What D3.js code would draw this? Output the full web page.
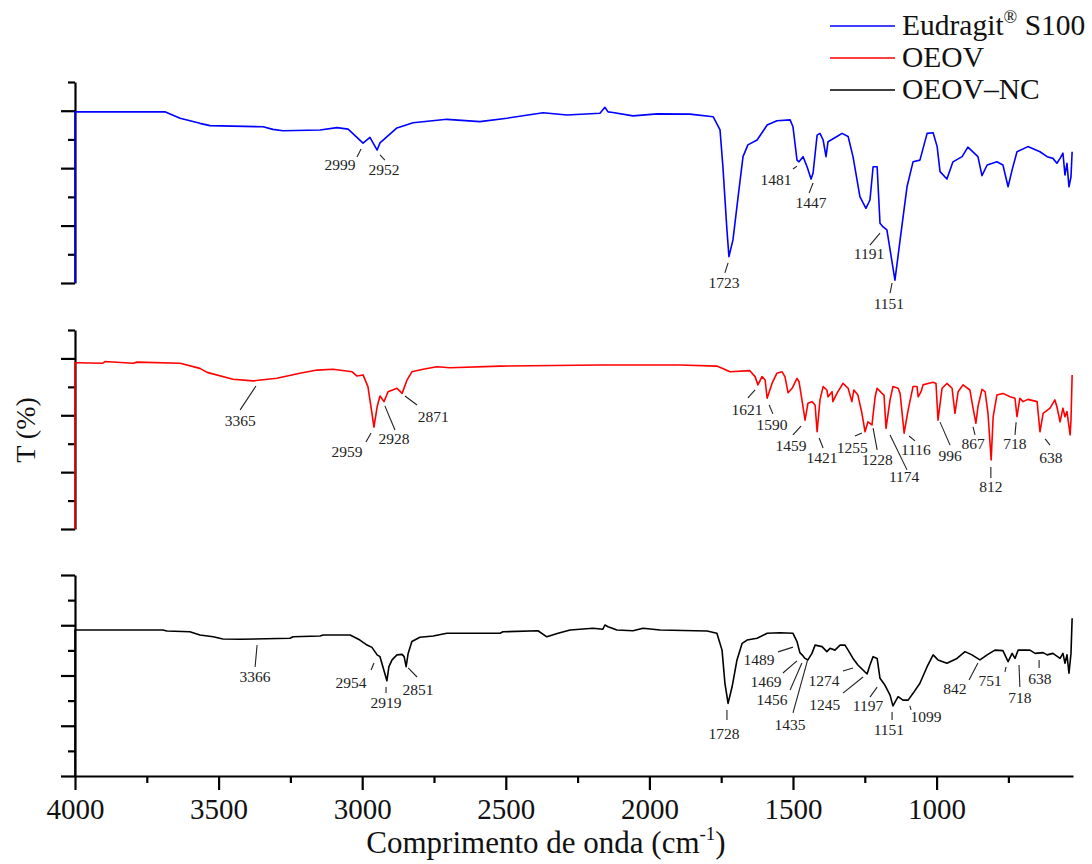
<!DOCTYPE html>
<html>
<head>
<meta charset="utf-8">
<script src="https://cdn.jsdelivr.net/npm/d3@7"></script>
<style>
    body { margin: 0; background: #fff; }
    svg { display: block; font-family: "Liberation Serif", "Times New Roman", serif; }
</style>
</head>
<body>
<svg id="drawing_region"></svg>
<script>
// series names (legend order = panel order, top to bottom)
const seriesNames = ['Eudragit® S100', 'OEOV', 'OEOV–NC'];
const seriesColors = ['#0000ff', '#ff0000', '#000000'];

// axes
const xDomain = [4000, 525];
const xTicks = [4000, 3500, 3000, 2500, 2000, 1500, 1000];
const xMinorTicks = [3750, 3250, 2750, 2250, 1750, 1250, 750];
const yMax = [70, 70, 80];
const yMajorTicks = [0, 20, 40, 60, 80];
const yMinorTicks = [10, 30, 50, 70];

// spectra: [wavenumber (cm-1), T (a.u.)]
const eudragit = [
    [4000, 0], [4000, 59.6], [3687, 59.6], [3634, 57.4], [3565, 55.6], [3530, 54.8], [3345, 54.4],
    [3311, 53.5], [3276, 53.0], [3147, 53.3], [3088, 54.1], [3049, 53.6], [2997, 48.7], [2973, 50.7],
    [2948, 46.3], [2938, 48.8], [2879, 54.0], [2823, 55.8], [2705, 57.0], [2590, 56.2], [2496, 57.4],
    [2370, 59.3], [2287, 58.5], [2172, 59.1], [2155, 61.2], [2144, 59.6], [2127, 59.4], [2057, 58.2],
    [1973, 58.9], [1859, 58.8], [1778, 57.9], [1754, 53.3], [1744, 40.5], [1730, 18.5], [1723, 9.2],
    [1709, 15.0], [1691, 30.1], [1674, 44.0], [1657, 48.1], [1625, 49.8], [1590, 55.0], [1556, 56.5],
    [1510, 56.8], [1500, 54.4], [1486, 42.8], [1479, 42.2], [1465, 44.0], [1451, 40.5], [1437, 36.2],
    [1430, 38.3], [1416, 51.5], [1406, 52.1], [1395, 49.8], [1385, 44.0], [1378, 49.2], [1347, 51.0],
    [1329, 52.1], [1308, 51.0], [1291, 44.0], [1267, 30.1], [1246, 26.0], [1232, 28.9], [1221, 40.5],
    [1207, 40.5], [1197, 20.8], [1187, 19.6], [1173, 18.5], [1145, 1.0], [1127, 15.0], [1103, 33.5],
    [1082, 42.2], [1058, 42.8], [1033, 52.1], [1012, 52.3], [998, 47.5], [988, 38.8], [964, 36.2],
    [943, 42.2], [911, 44.0], [891, 47.3], [856, 44.0], [842, 37.4], [824, 41.1], [790, 42.2],
    [769, 41.1], [751, 33.5], [737, 39.4], [720, 45.7], [682, 47.5], [640, 45.7], [615, 44.0],
    [595, 43.4], [581, 41.7], [570, 43.4], [560, 45.2], [553, 37.6], [546, 41.7], [539, 33.5],
    [532, 37.0], [528, 45.7]
];

const oeov = [
    [4000, 0], [4000, 58.5], [3993, 58.5], [3903, 58.3], [3896, 58.9], [3798, 58.3], [3784, 58.7],
    [3634, 58.3], [3565, 56.5], [3540, 55.1], [3450, 52.7], [3380, 52.1], [3297, 53.0], [3217, 54.8],
    [3157, 55.9], [3102, 56.2], [3035, 55.3], [3018, 53.8], [2997, 54.2], [2980, 50.1], [2966, 40.7],
    [2959, 35.8], [2948, 43.0], [2938, 46.8], [2924, 44.8], [2910, 48.3], [2879, 49.5], [2861, 47.7],
    [2844, 52.4], [2827, 55.3], [2788, 56.2], [2740, 57.1], [2694, 56.7], [2520, 57.3], [2172, 57.7],
    [1893, 57.7], [1765, 57.3], [1719, 55.3], [1650, 55.7], [1632, 53.6], [1622, 50.7], [1608, 53.6],
    [1597, 52.4], [1590, 46.0], [1573, 51.2], [1556, 54.8], [1538, 55.3], [1528, 53.6], [1517, 47.9],
    [1503, 49.5], [1486, 53.0], [1479, 51.8], [1465, 43.0], [1458, 38.3], [1448, 44.2], [1434, 44.8],
    [1423, 43.6], [1416, 34.2], [1406, 45.4], [1395, 50.1], [1382, 48.9], [1378, 46.5], [1364, 48.3],
    [1361, 44.8], [1347, 47.7], [1326, 51.2], [1308, 49.5], [1295, 44.8], [1288, 48.9], [1274, 47.1],
    [1260, 40.7], [1249, 34.2], [1239, 37.7], [1225, 36.6], [1214, 46.5], [1207, 49.5], [1190, 47.7],
    [1183, 47.1], [1176, 35.4], [1162, 45.4], [1152, 50.1], [1134, 49.5], [1127, 47.7], [1113, 33.7],
    [1099, 41.9], [1082, 50.1], [1068, 50.1], [1064, 46.5], [1054, 48.3], [1047, 50.7], [1030, 51.2],
    [1012, 51.6], [1002, 51.2], [995, 38.3], [981, 49.5], [964, 51.2], [946, 49.5], [936, 40.7],
    [925, 48.3], [908, 50.7], [884, 48.9], [873, 42.5], [863, 37.2], [856, 43.0], [842, 49.1],
    [831, 48.3], [821, 40.7], [810, 24.3], [803, 39.5], [790, 47.1], [769, 47.7], [744, 46.5],
    [727, 46.0], [720, 39.5], [710, 46.0], [699, 44.8], [682, 45.6], [650, 44.8], [640, 34.2],
    [629, 40.7], [605, 42.5], [588, 45.4], [581, 43.0], [570, 37.7], [560, 42.5], [553, 39.5],
    [546, 41.3], [535, 33.1], [532, 38.3], [528, 54.2]
];

const oeovNc = [
    [4000, 0], [4000, 58.1], [3694, 58.1], [3680, 57.7], [3600, 57.4], [3565, 56.1], [3519, 55.4],
    [3485, 54.5], [3425, 54.4], [3251, 54.8], [3241, 55.4], [3147, 55.7], [3136, 56.1], [3042, 56.1],
    [3008, 54.1], [2983, 52.1], [2966, 51.2], [2948, 48.2], [2938, 47.5], [2928, 43.5], [2914, 37.9],
    [2907, 43.5], [2896, 46.2], [2879, 48.2], [2861, 48.4], [2854, 47.5], [2847, 43.5], [2840, 48.8],
    [2827, 53.5], [2799, 55.2], [2753, 55.7], [2705, 56.8], [2520, 56.8], [2510, 57.4], [2388, 57.8],
    [2357, 55.4], [2318, 56.8], [2276, 58.1], [2196, 58.8], [2162, 58.4], [2155, 60.1], [2144, 59.4],
    [2113, 58.1], [2057, 57.8], [2022, 58.8], [1963, 58.1], [1799, 57.7], [1765, 56.8], [1747, 50.1],
    [1737, 36.9], [1726, 28.9], [1712, 35.5], [1695, 46.2], [1677, 52.8], [1660, 54.1], [1625, 54.8],
    [1590, 56.8], [1545, 57.0], [1500, 56.8], [1486, 53.5], [1476, 49.1], [1465, 47.8], [1458, 46.8],
    [1448, 46.2], [1434, 48.8], [1423, 52.1], [1399, 51.5], [1382, 49.5], [1371, 50.8], [1354, 50.1],
    [1336, 52.1], [1319, 52.1], [1308, 50.1], [1291, 46.8], [1274, 44.2], [1242, 40.6], [1232, 44.2],
    [1221, 47.5], [1207, 46.8], [1197, 38.9], [1180, 36.2], [1162, 32.2], [1152, 27.9], [1134, 31.6],
    [1117, 30.2], [1099, 30.2], [1082, 32.9], [1058, 36.9], [1033, 43.5], [1012, 48.2], [995, 46.2],
    [964, 44.9], [929, 46.8], [901, 49.5], [877, 48.2], [849, 46.2], [824, 48.2], [797, 50.1],
    [769, 49.9], [751, 45.5], [737, 48.8], [727, 46.8], [716, 50.1], [675, 50.1], [657, 48.8],
    [629, 49.1], [615, 48.2], [595, 48.8], [570, 46.8], [560, 48.8], [553, 44.9], [546, 48.2],
    [539, 40.9], [532, 48.8], [528, 62.8]
];

// peak labels: [text, text wn, text T, leader wn1, T1, leader wn2, T2]
const eudragitPeaks = [
    ['2999', 3077, 41.1, 3018, 43.9, 3004, 46.7],
    ['2952', 2924, 39.4, 2938, 44.6, 2921, 42.8],
    ['1723', 1740, 0.3, 1737, 3.5, 1726, 7.0],
    ['1481', 1559, 36.2, 1500, 39.7, 1486, 40.7],
    ['1447', 1437, 27.9, 1444, 31.3, 1430, 34.8],
    ['1191', 1235, 10.4, 1232, 13.2, 1197, 17.4],
    ['1151', 1166, -7.3, 1162, -3.5, 1155, 0]
];

const oeovPeaks = [
    ['3365', 3425, 38.3, 3425, 41.9, 3370, 50.3],
    ['2959', 3053, 27.1, 2987, 30.6, 2969, 33.8],
    ['2928', 2889, 32.0, 2921, 43.3, 2886, 34.8],
    ['2871', 2753, 39.4, 2851, 46.8, 2809, 43.6],
    ['1621', 1660, 41.9, 1657, 46.1, 1632, 48.9],
    ['1590', 1573, 36.6, 1583, 43.6, 1570, 40.5],
    ['1459', 1507, 29.2, 1500, 33.1, 1472, 36.2],
    ['1421', 1399, 25.0, 1409, 32.0, 1395, 28.5],
    ['1255', 1294, 28.8, 1284, 32.7, 1260, 33.8],
    ['1228', 1207, 24.3, 1221, 35.5, 1207, 27.8],
    ['1174', 1113, 18.3, 1162, 33.1, 1103, 20.8],
    ['1116', 1072, 27.8, 1096, 32.7, 1075, 31.0],
    ['996', 953, 26.0, 988, 37.6, 953, 29.5],
    ['867', 873, 30.2, 873, 35.9, 866, 33.1],
    ['812', 811, 14.8, 811, 21.8, 811, 17.9],
    ['718', 727, 30.2, 723, 37.6, 727, 33.1],
    ['638', 602, 25.3, 622, 31.7, 605, 29.5]
];

const oeovNcPeaks = [
    ['3366', 3373, 39.8, 3366, 52.1, 3373, 43.4],
    ['2954', 3039, 37.4, 2969, 42.2, 2959, 45.0],
    ['2919', 2917, 29.1, 2917, 35.4, 2917, 33.0],
    ['2851', 2806, 34.6, 2840, 43.0, 2809, 39.4],
    ['1728', 1740, 17.1, 1730, 26.3, 1730, 22.3],
    ['1489', 1618, 46.2, 1552, 49.4, 1500, 51.3],
    ['1469', 1594, 37.8, 1535, 41.0, 1486, 45.8],
    ['1456', 1573, 30.6, 1510, 34.2, 1469, 45.0],
    ['1435', 1510, 20.3, 1500, 25.1, 1448, 46.6],
    ['1274', 1392, 38.2, 1326, 41.8, 1291, 43.0],
    ['1245', 1389, 28.3, 1326, 33.0, 1256, 39.4],
    ['1197', 1239, 27.9, 1232, 31.4, 1207, 35.4],
    ['1151', 1166, 18.7, 1155, 25.5, 1155, 22.3],
    ['1099', 1037, 23.5, 1093, 27.9, 1089, 26.3],
    ['842', 936, 35.0, 887, 38.2, 856, 45.0],
    ['751', 814, 38.2, 762, 41.4, 758, 43.4],
    ['718', 710, 31.4, 713, 44.2, 710, 35.4],
    ['638', 640, 39.0, 643, 46.2, 643, 43.0]
];

class StackedSpectra {

    constructor(config, spectra, peaks) {
        this.config = config;
        this.spectra = spectra;
        this.peaks = peaks;
        this.init();
    }

    init() {
        let self = this;

        self.svg = d3.select(self.config.parent)
            .attr('width', self.config.width)
            .attr('height', self.config.height);

        self.xscale = d3.scaleLinear()
            .domain(xDomain)
            .range([self.config.left, self.config.right]);

        self.yscales = self.config.panels.map((p, i) => d3.scaleLinear()
            .domain([0, yMax[i]])
            .range([p.bottom, p.top]));
    }

    render() {
        let self = this;
        const serif = 'Liberation Serif';

        // y axes, one per panel
        self.yscales.forEach((ys, i) => {
            const g = self.svg.append('g')
                .attr('transform', `translate(${self.config.left},0)`);
            g.call(d3.axisLeft(ys)
                .tickValues(yMajorTicks.filter(v => v <= yMax[i]))
                .tickSize(14).tickSizeOuter(0).tickFormat(''));
            g.append('g').call(d3.axisLeft(ys)
                .tickValues(yMinorTicks.filter(v => v <= yMax[i]))
                .tickSize(7).tickSizeOuter(0).tickFormat(''))
                .select('.domain').remove();
            g.selectAll('path, line').attr('stroke-width', 2.2);
        });

        // x axis under the bottom panel
        const bottom = self.config.panels[2].bottom;
        const xg = self.svg.append('g')
            .attr('transform', `translate(0,${bottom})`);
        xg.call(d3.axisBottom(self.xscale)
            .tickValues(xTicks).tickSize(14).tickSizeOuter(0).tickFormat(d3.format('d')));
        xg.append('g').call(d3.axisBottom(self.xscale)
            .tickValues(xMinorTicks).tickSize(7).tickSizeOuter(0).tickFormat(''))
            .select('.domain').remove();
        xg.selectAll('path, line').attr('stroke-width', 2.2);
        xg.attr('font-family', serif).attr('font-size', 29);
        xg.selectAll('.tick text').attr('y', 43).attr('dy', 0).attr('fill', '#111');

        // spectra
        self.spectra.forEach((data, i) => {
            const ys = self.yscales[i];
            const line = d3.line()
                .x(d => self.xscale(d[0]))
                .y(d => ys(d[1]));
            self.svg.append('path')
                .datum(data)
                .attr('d', line)
                .attr('fill', 'none')
                .attr('stroke', seriesColors[i])
                .attr('stroke-width', 1.6)
                .attr('stroke-linejoin', 'round');
        });

        // peak labels
        self.peaks.forEach((list, i) => {
            const ys = self.yscales[i];
            const g = self.svg.append('g');
            g.selectAll('line')
                .data(list)
                .join('line')
                .attr('x1', d => self.xscale(d[3]))
                .attr('y1', d => ys(d[4]))
                .attr('x2', d => self.xscale(d[5]))
                .attr('y2', d => ys(d[6]))
                .attr('stroke', '#222')
                .attr('stroke-width', 1.1);
            g.selectAll('text')
                .data(list)
                .join('text')
                .text(d => d[0])
                .attr('x', d => self.xscale(d[1]))
                .attr('y', d => ys(d[2]))
                .attr('text-anchor', 'middle')
                .attr('dominant-baseline', 'central')
                .attr('font-family', serif)
                .attr('font-size', 15.5)
                .attr('fill', '#222');
        });

        // axis titles
        const title = self.svg.append('text')
            .attr('x', 546)
            .attr('y', 853)
            .attr('text-anchor', 'middle')
            .attr('font-family', serif)
            .attr('font-size', 31)
            .attr('fill', '#111');
        title.append('tspan').text('Comprimento de onda (cm');
        title.append('tspan').text('-1').attr('font-size', 19).attr('dy', -13);
        title.append('tspan').text(')').attr('dy', 13);

        self.svg.append('text')
            .attr('transform', 'translate(35,430) rotate(-90)')
            .attr('text-anchor', 'middle')
            .attr('font-family', serif)
            .attr('font-size', 28)
            .attr('fill', '#111')
            .text('T (%)');

        // legend
        const lg = self.svg.append('g')
            .selectAll('g')
            .data(seriesNames)
            .join('g')
            .attr('transform', (d, i) => `translate(830,${26 + i * 32})`);
        lg.append('line')
            .attr('x1', 0).attr('x2', 65)
            .attr('stroke', (d, i) => seriesColors[i])
            .attr('stroke-width', 1.6);
        const lt = lg.append('text')
            .attr('x', 72)
            .attr('y', 9)
            .attr('font-family', serif)
            .attr('font-size', 29.5)
            .attr('fill', '#111');
        lt.each(function (d) {
            const parts = d.split('®');
            const t = d3.select(this);
            t.append('tspan').text(parts[0]);
            if (parts.length > 1) {
                t.append('tspan').text('®').attr('font-size', 18).attr('dy', -12);
                t.append('tspan').text(parts[1]).attr('dy', 12);
            }
        });
    }
}

const config = {
    parent: '#drawing_region',
    width: 1092,
    height: 864,
    left: 75,
    right: 1073,
    panels: [
        { top: 82, bottom: 283 },
        { top: 330, bottom: 529 },
        { top: 575, bottom: 776 }
    ]
};

const chart = new StackedSpectra(config, [eudragit, oeov, oeovNc], [eudragitPeaks, oeovPeaks, oeovNcPeaks]);
chart.render();
</script>
</body>
</html>
